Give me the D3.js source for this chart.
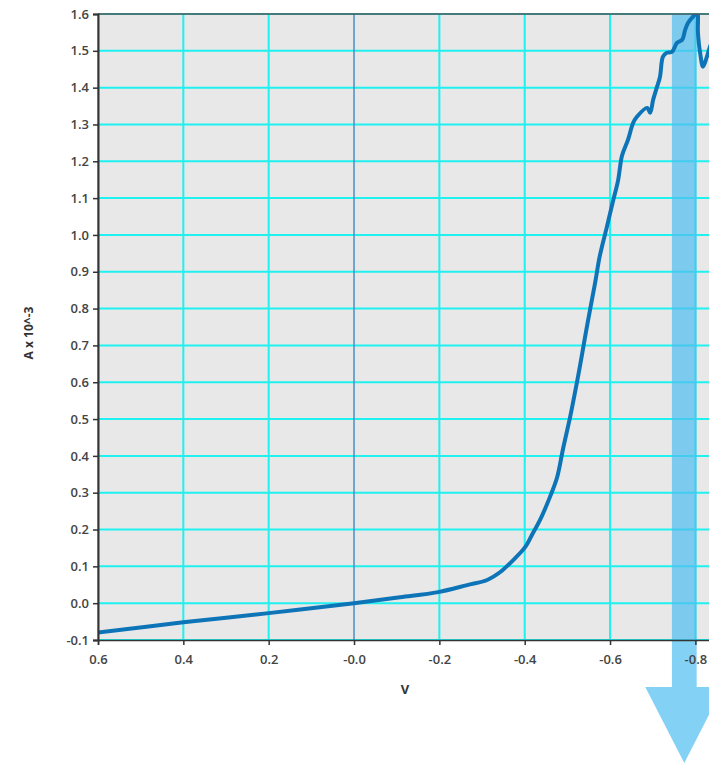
<!DOCTYPE html>
<html>
<head>
<meta charset="utf-8">
<script src="https://cdn.jsdelivr.net/npm/d3@7"></script>
<style>
  html, body { margin: 0; padding: 0; background: #fff; }
  svg { display: block; }
</style>
</head>
<body>
<div id="chart"></div>
<script>
// sweep readings: potential (V) and current (A x 10^-3)
const volts = [0.6, 0.4, 0.2, 0.0, -0.108, -0.197, -0.265, -0.312, -0.342, -0.373, -0.401,
  -0.419, -0.436, -0.459, -0.476, -0.490, -0.506, -0.518, -0.530, -0.541, -0.553,
  -0.565, -0.576, -0.593, -0.607, -0.619, -0.628, -0.642, -0.654, -0.663, -0.687, -0.694,
  -0.701, -0.710, -0.717, -0.724, -0.733, -0.745, -0.757, -0.769, -0.776, -0.783, -0.794,
  -0.804, -0.806, -0.811, -0.818, -0.827, -0.832, -0.840];
const amps = [-0.080, -0.052, -0.027, 0.0, 0.016, 0.030, 0.049, 0.063, 0.084, 0.117, 0.152,
  0.190, 0.226, 0.288, 0.342, 0.420, 0.503, 0.573, 0.647, 0.720, 0.796,
  0.870, 0.943, 1.024, 1.092, 1.149, 1.215, 1.258, 1.304, 1.321, 1.345, 1.332,
  1.367, 1.402, 1.429, 1.484, 1.495, 1.497, 1.522, 1.530, 1.557, 1.576, 1.592,
  1.603, 1.549, 1.495, 1.457, 1.484, 1.503, 1.530];
const xTicks = [0.6, 0.4, 0.2, 0.0, -0.2, -0.4, -0.6, -0.8];
const yTicks = [-0.1, 0.0, 0.1, 0.2, 0.3, 0.4, 0.5, 0.6, 0.7, 0.8, 0.9, 1.0, 1.1, 1.2, 1.3, 1.4, 1.5, 1.6];
const band = [-0.745, -0.803];   // highlighted potential window

const W = 709, H = 764;
const mLeft = 98, mTop = 14, mBottom = 640;

const svg = d3.select('#chart').append('svg')
  .attr('width', W).attr('height', H);

const x = d3.scaleLinear().domain([0.6, -0.9]).range([mLeft, mLeft + 1.5 * 426.7]);
const y = d3.scaleLinear().domain([-0.1, 1.6]).range([mBottom, mTop]);
const mRight = x.range()[1];

svg.append('clipPath').attr('id', 'plot')
  .append('rect').attr('x', mLeft).attr('y', mTop)
  .attr('width', mRight - mLeft).attr('height', mBottom - mTop);

svg.append('rect')
  .attr('x', mLeft).attr('y', mTop)
  .attr('width', mRight - mLeft).attr('height', mBottom - mTop)
  .attr('fill', '#e8e8e8');

// grid
const grid = svg.append('g');
grid.selectAll('line.h').data(yTicks).enter().append('line')
  .attr('x1', mLeft).attr('x2', mRight)
  .attr('y1', d => y(d)).attr('y2', d => y(d))
  .attr('stroke', '#1ff0f0').attr('stroke-width', 2);
grid.selectAll('line.v').data(xTicks).enter().append('line')
  .attr('y1', mTop).attr('y2', mBottom)
  .attr('x1', d => x(d)).attr('x2', d => x(d))
  .attr('stroke', d => d === 0 ? '#4a8fc4' : '#1ff0f0')
  .attr('stroke-width', d => d === 0 ? 1.5 : 2);

// highlight band + arrow
const bx0 = x(band[0]), bx1 = x(band[1]);
const bc = (bx0 + bx1) / 2;
const headY = 687, tipY = 763, headHalf = 39;
svg.append('path')
  .attr('d', [
    ['M', bx0, mTop], ['L', bx1, mTop], ['L', bx1, headY], ['L', bc + headHalf, headY],
    ['L', bc, tipY], ['L', bc - headHalf, headY], ['L', bx0, headY], ['Z']
  ].map(p => p.join(' ')).join(' '))
  .attr('fill', '#4fbdef').attr('fill-opacity', 0.7);

// curve
const line = d3.line().x((d, i) => x(volts[i])).y(d => y(d))
  .curve(d3.curveCatmullRom.alpha(0.5));
svg.append('path')
  .datum(amps)
  .attr('clip-path', 'url(#plot)')
  .attr('d', line)
  .attr('fill', 'none')
  .attr('stroke', '#0d74b8')
  .attr('stroke-width', 4)
  .attr('stroke-linejoin', 'round');

// frame
svg.append('line').attr('x1', mLeft).attr('x2', mRight).attr('y1', mTop).attr('y2', mTop)
  .attr('stroke', '#555').attr('stroke-width', 1.5);

const xAxis = svg.append('g')
  .attr('transform', `translate(0,${mBottom})`)
  .call(d3.axisBottom(x).tickValues(xTicks).tickSize(5).tickPadding(10)
    .tickFormat(d => d === 0 ? '-0.0' : d3.format('.1f')(d).replace('−', '-')));
const yAxis = svg.append('g')
  .attr('transform', `translate(${mLeft},0)`)
  .call(d3.axisLeft(y).tickValues(yTicks).tickSize(5).tickPadding(4)
    .tickFormat(d => d3.format('.1f')(d).replace('−', '-')));

[xAxis, yAxis].forEach(g => {
  g.select('.domain').attr('stroke', '#333').attr('stroke-width', 2);
  g.selectAll('.tick line').attr('stroke', '#333').attr('stroke-width', 1.5);
  g.selectAll('.tick text')
    .attr('fill', '#444')
    .attr('font-family', '"Open Sans", sans-serif')
    .attr('font-weight', 600)
    .attr('font-size', 13);
});
xAxis.select('.domain').attr('stroke-width', 1.5);

svg.append('text')
  .attr('x', 405).attr('y', 694)
  .attr('text-anchor', 'middle')
  .attr('font-family', '"Open Sans", sans-serif')
  .attr('font-weight', 700).attr('font-size', 13)
  .attr('fill', '#333')
  .text('V');

svg.append('text')
  .attr('transform', 'translate(33,333) rotate(-90)')
  .attr('text-anchor', 'middle')
  .attr('font-family', '"Open Sans", sans-serif')
  .attr('font-weight', 700).attr('font-size', 12)
  .attr('fill', '#333')
  .text('A x 10^-3');
</script>
</body>
</html>
